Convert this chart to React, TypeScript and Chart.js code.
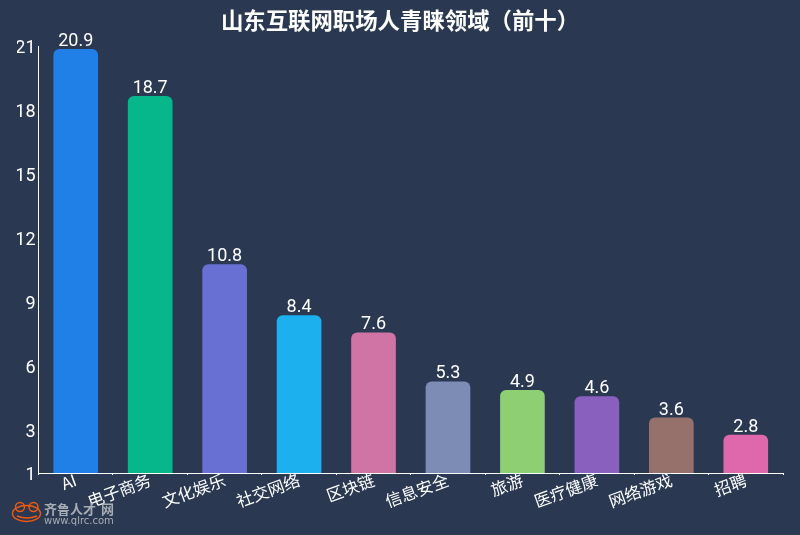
import React from "react";
import { Chart, registerables } from "chart.js";
import type { Plugin } from "chart.js";

Chart.register(...registerables);

const categories = ["AI", "电子商务", "文化娱乐", "社交网络", "区块链", "信息安全", "旅游", "医疗健康", "网络游戏", "招聘"];
const values = [20.9, 18.7, 10.8, 8.4, 7.6, 5.3, 4.9, 4.6, 3.6, 2.8];
const barColors = ["#2080e8", "#05b78a", "#6870d3", "#1cb0ee", "#d074a5", "#7c8cb5", "#8ecf73", "#8a60bf", "#96706b", "#df67ab"];
const yTicks = [1, 3, 6, 9, 12, 15, 18, 21];

const FONT = '"Noto Sans CJK SC", "Noto Sans", sans-serif';
const NUM_FONT = 'Roboto, "Noto Sans", sans-serif';
const BG = "#2a3851";

const background: Plugin<"bar"> = {
  id: "background",
  beforeDraw(chart) {
    const { ctx, width, height } = chart;
    ctx.save();
    ctx.fillStyle = BG;
    ctx.fillRect(0, 0, width, height);
    ctx.restore();
  },
};

// value above each bar
const barLabels: Plugin<"bar"> = {
  id: "barLabels",
  afterDatasetsDraw(chart) {
    const { ctx } = chart;
    ctx.save();
    ctx.fillStyle = "#ffffff";
    ctx.font = `18px ${NUM_FONT}`;
    ctx.textAlign = "center";
    ctx.textBaseline = "alphabetic";
    chart.getDatasetMeta(0).data.forEach((bar, i) => {
      ctx.fillText(values[i].toFixed(1), bar.x, bar.y - 3);
    });
    ctx.restore();
  },
};

// site mark in the bottom left corner
const watermark: Plugin<"bar"> = {
  id: "watermark",
  afterDraw(chart) {
    const { ctx } = chart;
    ctx.save();
    ctx.strokeStyle = "#f05a10";
    ctx.lineWidth = 1.4;
    ctx.beginPath();
    ctx.ellipse(26.5, 513.5, 14, 8, 0, 0, Math.PI * 2);
    ctx.stroke();
    ctx.beginPath();
    ctx.arc(20, 507, 4.5, 0, Math.PI * 2);
    ctx.moveTo(38, 507);
    ctx.arc(33.5, 507, 4.5, 0, Math.PI * 2);
    ctx.stroke();
    ctx.beginPath();
    ctx.moveTo(17, 516);
    ctx.quadraticCurveTo(27, 520, 37, 516);
    ctx.stroke();
    ctx.fillStyle = "#a9adb5";
    ctx.textBaseline = "alphabetic";
    ctx.font = `bold 13px ${FONT}`;
    ctx.fillText("齐鲁人才", 44, 514);
    ctx.fillText("网", 101, 514);
    ctx.font = `10px "DejaVu Sans", sans-serif`;
    ctx.fillText("www.qlrc.com", 44, 524);
    ctx.restore();
  },
};

export default function App(): JSX.Element {
  const chartRef = React.useRef<HTMLCanvasElement>(null);

  React.useEffect(() => {
    let chart: Chart<"bar"> | undefined;
    if (chartRef.current !== null) {
      chart = new Chart(chartRef.current, {
        type: "bar",
        data: {
          labels: categories,
          datasets: [
            {
              data: values,
              backgroundColor: barColors,
              borderRadius: 6,
              borderSkipped: false,
              barPercentage: 0.6,
              categoryPercentage: 1,
            },
          ],
        },
        options: {
          animation: false,
          responsive: false,
          devicePixelRatio: 1,
          // equal side padding keeps the title centred on the canvas
          layout: { padding: { left: 17, right: 17, top: 0, bottom: 0 } },
          plugins: {
            legend: { display: false },
            tooltip: { enabled: false },
            title: {
              display: true,
              text: "山东互联网职场人青睐领域（前十）",
              color: "#ffffff",
              font: { family: FONT, size: 22.4, weight: "bold" },
              padding: { top: 7, bottom: 13 },
            },
          },
          scales: {
            x: {
              afterFit(scale) {
                scale.height = 62;
              },
              border: { color: "#ffffff", width: 1 },
              grid: { drawOnChartArea: false, color: "#ffffff", tickLength: 2 },
              ticks: {
                color: "#ffffff",
                font: { family: FONT, size: 16.5 },
                minRotation: 20,
                maxRotation: 20,
                autoSkip: false,
                padding: -5,
              },
            },
            y: {
              min: 1,
              max: 21,
              afterFit(scale) {
                scale.width = 21.5;
              },
              afterBuildTicks(scale) {
                scale.ticks = yTicks.map((value) => ({ value }));
              },
              border: { color: "#ffffff", width: 1 },
              grid: { display: true, drawOnChartArea: false, drawTicks: false },
              ticks: {
                color: "#ffffff",
                font: { family: NUM_FONT, size: 18 },
                padding: 3,
                labelOffset: 2,
              },
            },
          },
        },
        plugins: [background, barLabels, watermark],
      });
    }
    return () => {
      chart?.destroy();
    };
  }, []);

  return (
    <div style={{ position: "absolute", left: 0, top: 0, width: 800, height: 535 }}>
      <canvas ref={chartRef} width={800} height={535} style={{ display: "block" }} />
    </div>
  );
}
